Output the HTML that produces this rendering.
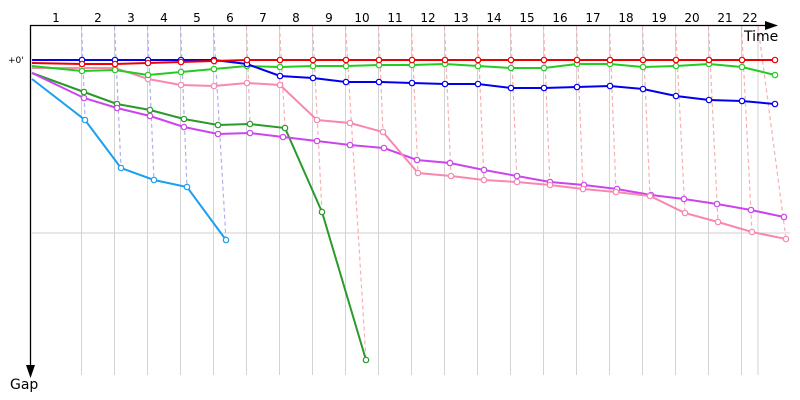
<!DOCTYPE html>
<html><head><meta charset="utf-8"><style>html,body{margin:0;padding:0;background:#fff}svg{display:block}text{font-family:"DejaVu Sans","Liberation Sans",sans-serif;font-size:12px}</style></head>
<body>
<svg id="s" width="800" height="400" xmlns="http://www.w3.org/2000/svg">
<rect width="800" height="400" fill="#fff"/>
<g id="grid"></g>
<line x1="32" y1="233" x2="790" y2="233" stroke="#d0d0d0" stroke-width="1"/>
<g id="dash"></g>
<g id="series"></g>
<line x1="30.5" y1="25" x2="30.5" y2="372" stroke="#000" stroke-width="1.3"/>
<polygon points="26,365 35,365 30.5,378" fill="#000"/>
<line x1="30" y1="25.5" x2="770" y2="25.5" stroke="#000" stroke-width="1.3"/>
<polygon points="765,21 765,30 778,25.5" fill="#000"/>
<text x="744" y="41" style="font-size:14px">Time</text>
<text x="10" y="389" style="font-size:14px">Gap</text>
<text x="8" y="63" style="font-size:9px">+0'</text>
<g id="labels"></g>
</svg>
<script>
var NS="http://www.w3.org/2000/svg";
function el(p,t,a,txt){var e=document.createElementNS(NS,t);for(var k in a)e.setAttribute(k,a[k]);if(txt)e.textContent=txt;document.getElementById(p).appendChild(e);return e;}
var gx=[];for(var k=0;k<21;k++)gx.push(81.5+33*k);gx.push(758);
gx.forEach(function(x){el("grid","line",{x1:x,y1:26,x2:x,y2:375,stroke:"#d3d3d3","stroke-width":1});});
for(var i=1;i<=22;i++){var cx=i==1?56:(gx[i-2]+gx[i-1])/2;if(i==22)cx=750;el("labels","text",{x:cx,y:22,"text-anchor":"middle"},String(i));}
var X=[32,82,115,148,181,214,247,280,313,346,379,412,445,478,511,544,577,610,643,676,709,742,775];
function S(ys,xs){return ys.map(function(y,i){return [xs?xs[i]:X[i],y];});}
var red=S([63,64,64,63,62,61,60,60,60,60,60,60,60,60,60,60,60,60,60,60,60,60,60]);
var blue=S([60,60,60,60,60,60,64,76,78,82,82,83,84,84,88,88,87,86,89,96,100,101,104]);
var lg=S([66,71,70,75,72,69,66,67,66,66,65,65,64,66,68,68,64,64,67,66,64,67,75]);
var pink=S([68,68,68,79,85,86,83,85,120,123,132,173,176,180,182,185,189,192,196,213,222,232,239],[32,82,115,148,181,214,247,280,317,350,383,418,451,484,517,550,583,616,650,685,718,752,786]);
var purp=S([73,98,108,116,127,134,133,137,141,145,148,160,163,170,176,182,185,189,195,199,204,210,217],[32,84,117,150,184,218,250,283,317,350,384,417,450,484,517,550,584,617,651,684,717,751,784]);
var dg=S([73,92,104,110,119,125,124,128,212,360],[32,84,117,150,184,218,250,285,322,366]);
var cy=S([79,120,168,180,187,240],[32,85,121,154,187,226]);
for(var k=0;k<22;k++){var p,c="#f8b0b0";
 if(k<5){p=cy[k+1];c="#b0b0f0";}else if(k<9){p=dg[k+1];}else{p=pink[k+1];}
 el("dash","line",{x1:gx[k],y1:26,x2:p[0],y2:p[1],stroke:c,"stroke-width":1.2,"stroke-dasharray":"4,3"});}
function draw(pts,c){el("series","polyline",{points:pts.map(function(p){return p.join(",")}).join(" "),fill:"none",stroke:c,"stroke-width":2});
 pts.forEach(function(p,i){if(i>0)el("series","circle",{cx:p[0],cy:p[1],r:2.7,fill:"#fff",stroke:c,"stroke-width":1.2});});}
draw(cy,"#1aa0f0");draw(dg,"#2a9a2a");draw(purp,"#cc44ee");draw(pink,"#f888b0");draw(lg,"#22cc22");draw(blue,"#0000ee");draw(red,"#ee0000");
</script>
</body></html>
